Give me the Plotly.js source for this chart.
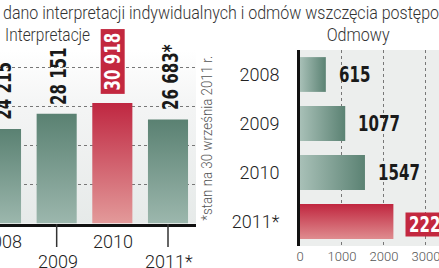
<!DOCTYPE html>
<html>
<head>
<meta charset="utf-8">
<script src="https://cdn.plot.ly/plotly-3.0.1.min.js"></script>
<style>
html,body{margin:0;padding:0;background:#fff;}
#chart{width:439px;height:268px;}
</style>
</head>
<body>
<div id="chart"></div>
<script>
// ---- data ----
const categories = ['2008', '2009', '2010', '2011*'];
const interpretacje = [24215, 28151, 30918, 26683];
const interpretacjeLabels = ['24 215', '28 151', '30 918', '26 683*'];
const odmowy = [615, 1077, 1547, 2224];
const odmowyLabels = ['615', '1077', '1547', '2224'];
const odmowyTicks = [0, 1000, 2000, 3000];
const titleText = 'dano interpretacji indywidualnych i odmów wszczęcia postępowania';
const leftTitle = 'Interpretacje';
const rightTitle = 'Odmowy';
const noteText = '*stan na 30 września 2011 r.';
const highlightLeft = 2;   // 2010
const highlightRight = 3;  // 2011*

const idx = categories.map((c, i) => i);
const LIGHT = 'Roboto, "Liberation Sans", sans-serif';
const BOLDF = '"DejaVu Sans Condensed", "DejaVu Sans", sans-serif';
const RED = '#c3283f';
const GREEN = '#6f9586';
const LABEL_SIZE = 22;
const SQUEEZE = 0.76;
const PAD = 3;

const W = 439, H = 268;
const py = p => (H - p) / H;   // pixel y -> paper
const px = p => p / W;         // pixel x -> paper

// measure label widths (for rotated label offsets)
const cv = document.createElement('canvas').getContext('2d');
cv.font = 'bold ' + LABEL_SIZE + 'px "DejaVu Sans Condensed"';
const measure = s => cv.measureText(s).width;

const data = [
  {
    type: 'bar', x: idx, y: interpretacje, xaxis: 'x', yaxis: 'y',
    width: 0.72,
    marker: {color: idx.map(i => i === highlightLeft ? RED : GREEN), line: {width: 0}},
    hoverinfo: 'none'
  },
  {
    type: 'bar', orientation: 'h', x: odmowy, y: idx, xaxis: 'x2', yaxis: 'y2',
    width: 0.71,
    marker: {color: idx.map(i => i === highlightRight ? RED : GREEN), line: {width: 0}},
    hoverinfo: 'none'
  }
];

const annotations = [];
const squeeze = [];   // per-annotation horizontal compression spec
function addAnn(a, s) { annotations.push(a); squeeze.push(s || null); }

addAnn({xref: 'paper', yref: 'paper', x: px(1), y: py(12), xanchor: 'left', yanchor: 'middle',
  text: titleText, showarrow: false, font: {family: LIGHT, size: 18, weight: 300, color: '#333'}},
  {sub: 'dano interpretacji indywidualnych i odmów wszczęcia postępo'.length, target: 436, anchor: 'start'});
addAnn({xref: 'paper', yref: 'paper', x: px(47), y: py(34), xanchor: 'center', yanchor: 'middle',
  text: leftTitle, showarrow: false, font: {family: LIGHT, size: 18, weight: 300, color: '#333'}},
  {target: 85, anchor: 'middle'});
addAnn({xref: 'paper', yref: 'paper', x: px(358), y: py(34), xanchor: 'center', yanchor: 'middle',
  text: rightTitle, showarrow: false, font: {family: LIGHT, size: 18, weight: 300, color: '#333'}},
  {target: 63, anchor: 'middle'});
addAnn({xref: 'paper', yref: 'paper', x: px(207), y: py(138), xanchor: 'center', yanchor: 'middle',
  text: noteText, textangle: -90, showarrow: false, font: {family: LIGHT, size: 14, weight: 300, color: '#555'}},
  {target: 165, anchor: 'middle'});

// left value labels (rotated)
idx.forEach(i => {
  const hl = i === highlightLeft;
  const len = measure(interpretacjeLabels[i]) * SQUEEZE;
  addAnn({
    xref: 'x', yref: 'y', x: i, y: interpretacje[i], xanchor: 'center', yanchor: 'middle',
    text: interpretacjeLabels[i], textangle: -90, showarrow: false,
    xshift: hl ? 0 : 2.5, yshift: (hl ? 10 + PAD : 9) + len / 2,
    bgcolor: hl ? RED : 'rgba(0,0,0,0)', borderpad: hl ? PAD : 0,
    font: {family: BOLDF, size: LABEL_SIZE, weight: 'bold', color: hl ? '#fff' : '#1a1a1a'}
  }, {factor: SQUEEZE, anchor: 'middle', trim: hl ? 8 : 0});
});
// left x labels (two levels)
idx.forEach(i => {
  addAnn({
    xref: 'x', yref: 'paper', x: i, y: i % 2 === 0 ? py(241) : py(261),
    xanchor: 'center', yanchor: 'middle', xshift: 1,
    text: categories[i], showarrow: false,
    font: {family: LIGHT, size: 18, weight: 300, color: '#222'}
  });
});
// right value labels
idx.forEach(i => {
  const hl = i === highlightRight;
  addAnn({
    xref: 'x2', yref: 'y2', x: odmowy[i], y: i, xanchor: 'left', yanchor: 'middle',
    text: odmowyLabels[i], showarrow: false,
    xshift: hl ? 12 : 12, yshift: hl ? -3 : 0,
    bgcolor: hl ? RED : 'rgba(0,0,0,0)', borderpad: hl ? PAD : 0,
    font: {family: BOLDF, size: LABEL_SIZE, weight: 'bold', color: hl ? '#fff' : '#1a1a1a'}
  }, {factor: SQUEEZE, anchor: 'start', trim: hl ? 8 : 0});
});

// tick marks for lower-level labels
const shapes = idx.filter(i => i % 2 === 1).map(i => ({
  type: 'line', xref: 'x', yref: 'paper', x0: i, x1: i, y0: py(224), y1: py(247),
  line: {color: '#333', width: 1.5}
}));

const layout = {
  width: W, height: H,
  margin: {l: 0, r: 0, t: 0, b: 0},
  paper_bgcolor: '#ffffff',
  plot_bgcolor: '#eceeed',
  showlegend: false,
  xaxis: {
    domain: [0, px(196)], range: [-0.018, 3.503],
    showticklabels: false, ticks: '', showgrid: false, zeroline: false,
    showline: true, linecolor: '#111', linewidth: 3, fixedrange: true
  },
  yaxis: {
    domain: [py(223.5), py(50)], range: [0, 44490],
    showticklabels: false, ticks: '', dtick: 10000,
    showgrid: true, gridcolor: '#777', griddash: 'dot', gridwidth: 1,
    zeroline: false, showline: false, fixedrange: true
  },
  xaxis2: {
    domain: [px(300), 1], range: [0, 3310], anchor: 'y2',
    tickvals: odmowyTicks, ticktext: odmowyTicks.map(String),
    ticks: '', ticklabelstandoff: 1, ticklabeloverflow: 'allow',
    tickfont: {family: LIGHT, size: 13, weight: 300, color: '#555'},
    showgrid: true, gridcolor: '#777', griddash: 'dot', gridwidth: 1,
    zeroline: false, showline: false, fixedrange: true
  },
  yaxis2: {
    domain: [py(246), py(50)], range: [3.5, -0.5], anchor: 'x2',
    tickvals: idx, ticktext: categories, ticks: '', ticklabelstandoff: 14,
    tickfont: {family: LIGHT, size: 18, weight: 300, color: '#222'},
    showgrid: false, zeroline: false,
    showline: true, linecolor: '#111', linewidth: 3, fixedrange: true
  },
  annotations: annotations,
  shapes: shapes
};

Plotly.newPlot('chart', data, layout, {staticPlot: true, displayModeBar: false}).then(gd => {
  const NS = 'http://www.w3.org/2000/svg';
  const svg = gd.querySelector('svg.main-svg');
  let defs = svg.querySelector('defs');
  if (!defs) { defs = document.createElementNS(NS, 'defs'); svg.insertBefore(defs, svg.firstChild); }
  function grad(id, vertical, stops) {
    const g = document.createElementNS(NS, 'linearGradient');
    g.setAttribute('id', id);
    g.setAttribute('x1', '0'); g.setAttribute('y1', '0');
    g.setAttribute('x2', vertical ? '0' : '1'); g.setAttribute('y2', vertical ? '1' : '0');
    stops.forEach(s => {
      const st = document.createElementNS(NS, 'stop');
      st.setAttribute('offset', s[0]); st.setAttribute('stop-color', s[1]);
      g.appendChild(st);
    });
    defs.appendChild(g);
  }
  grad('gGreenV', true, [['0', '#5a8172'], ['1', '#9cb7ad']]);
  grad('gRedV', true, [['0', '#bf2741'], ['1', '#e39a9a']]);
  grad('gGreenH', false, [['0', '#a8c0b7'], ['1', '#5b8273']]);
  grad('gRedH', true, [['0', '#c0263f'], ['1', '#df8c8f']]);
  grad('gBgL', true, [['0', '#ffffff'], ['0.35', '#f3f4f4'], ['1', '#e6eae9']]);

  gd.querySelectorAll('.subplot.xy .barlayer .point path').forEach((p, i) => {
    p.style.fill = i === highlightLeft ? 'url(#gRedV)' : 'url(#gGreenV)';
  });
  gd.querySelectorAll('.subplot.x2y2 .barlayer .point path').forEach((p, i) => {
    p.style.fill = i === highlightRight ? 'url(#gRedH)' : 'url(#gGreenH)';
  });
  const bgs = gd.querySelectorAll('.bglayer rect.bg');
  if (bgs.length) bgs[0].style.fill = 'url(#gBgL)';

  // condensed look for texts: squeeze glyphs horizontally
  squeeze.forEach((spec, i) => {
    if (!spec) return;
    const g = gd.querySelector('.annotation[data-index="' + i + '"]');
    if (!g) return;
    const t = g.querySelector('text.annotation-text');
    if (!t) return;
    const w = t.getComputedTextLength();
    let f = spec.factor || 1;
    if (spec.target) f = spec.target / (spec.sub ? t.getSubStringLength(0, Math.min(spec.sub, t.getNumberOfChars())) : w);
    const nw = w * f, d = (w - nw) / 2;
    t.setAttribute('textLength', nw);
    t.setAttribute('lengthAdjust', 'spacingAndGlyphs');
    const bg = g.querySelector('rect.bg');
    const x = parseFloat(t.getAttribute('x') || '0');
    if (spec.anchor === 'start') {
      t.setAttribute('x', x - d);
      if (bg) bg.setAttribute('width', parseFloat(bg.getAttribute('width')) - 2 * d);
    } else if (bg) {
      bg.setAttribute('x', parseFloat(bg.getAttribute('x')) + d);
      bg.setAttribute('width', parseFloat(bg.getAttribute('width')) - 2 * d);
    }
    if (bg && spec.trim) {
      bg.setAttribute('y', parseFloat(bg.getAttribute('y')) + spec.trim / 2);
      bg.setAttribute('height', parseFloat(bg.getAttribute('height')) - spec.trim);
    }
  });
});
</script>
</body>
</html>
